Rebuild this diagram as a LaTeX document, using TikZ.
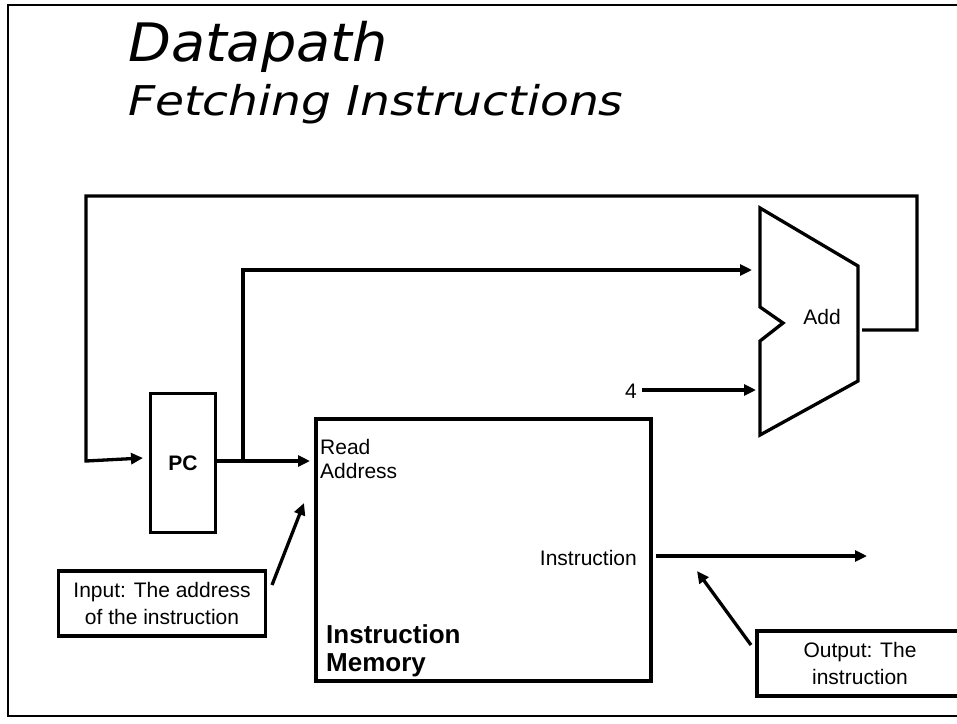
\documentclass[tikz,border=0pt]{standalone}
\usepackage{fontspec}
\setmainfont{Liberation Sans}
\newfontfamily\titlefont{DejaVu Sans}
\usetikzlibrary{arrows.meta}
\begin{document}
\begin{tikzpicture}[x=1pt,y=-1pt,
  wire/.style={line width=3.3pt, line join=miter},
  arr/.style={wire, -{Triangle[length=12pt,width=11pt]}},
  box/.style={draw, line width=3.3pt, inner sep=0pt},
  lbl/.style={font=\fontsize{21}{27}\selectfont, inner sep=0pt},
  big/.style={font=\bfseries\fontsize{26}{28}\selectfont, inner sep=0pt},
  ttl/.style={inner sep=0pt, anchor=base west},
]
\clip (0,0) rectangle (957,723);
\useasboundingbox (0,0) rectangle (957,723);
\draw[line width=2pt] (8,5) rectangle (985,716);

% title
\node[ttl, font=\titlefont\itshape\fontsize{53}{60}\selectfont] (t1) at (128,61) {\scalebox{1.05}[1]{Datapath}};
\node[ttl, font=\titlefont\itshape\fontsize{41}{48}\selectfont] (t2) at (128,115) {\scalebox{1.15}[1]{Fetching Instructions}};

% adder
\draw[wire] (760,208) -- (858,266) -- (858,381) -- (760,435) -- (760,341) -- (783,323) -- (760,307) -- cycle;
\node[lbl] (addlbl) at (822,317) {Add};
\coordinate (addA) at (752,270);
\coordinate (addB) at (756,390);
\coordinate (addout) at (862,330);

% PC
\node[box, minimum width=65pt, minimum height=139pt, font=\bfseries\fontsize{21}{25}\selectfont] (pc) at (183,463) {PC};
\coordinate (pcin) at (143,458);
\coordinate (j) at (243,461);
\coordinate (memin) at (310,461);

% instruction memory
\node[box, minimum width=335pt, minimum height=262pt] (mem) at (483.5,550) {};
\node[lbl, anchor=base west] (readlbl) at (320,454) {Read};
\node[lbl, anchor=base west] (addrlbl) at (320,478) {Address};
\node[lbl, anchor=base east] (instlbl) at (637,565) {Instruction};
\node[big, anchor=base west] (im1) at (326,643) {Instruction};
\node[big, anchor=base west] (im2) at (326,671) {Memory};
\coordinate (memout) at (656,556);
\coordinate (outend) at (867,556);

% constant 4
\node[lbl, anchor=base east] (four) at (637,398) {4};
\coordinate (fourA) at (642,390);

% wires
\draw[arr] (addout) -- (917,330) -- (917,196) -- (86,196) -- (86,461) -- (pcin);
\draw[arr] (pc.east |- j) -- (memin);
\draw[arr] (j) |- (addA);
\draw[arr] (fourA) -- (addB);
\draw[arr] (memout) -- (outend);

% annotations
\node[box, lbl, align=center, minimum width=207pt, minimum height=65pt] (inbox) at (162,603.5) {Input: The address\\of the instruction};
\node[box, lbl, align=center, minimum width=206pt, minimum height=65pt] (outbox) at (860,663.5) {Output: The\\instruction};
\coordinate (inA) at (272,585);
\coordinate (inB) at (304,503);
\coordinate (outA) at (751,645);
\coordinate (outB) at (697,571);
\draw[arr] (inA) -- (inB);
\draw[arr] (outA) -- (outB);
\end{tikzpicture}
\end{document}
